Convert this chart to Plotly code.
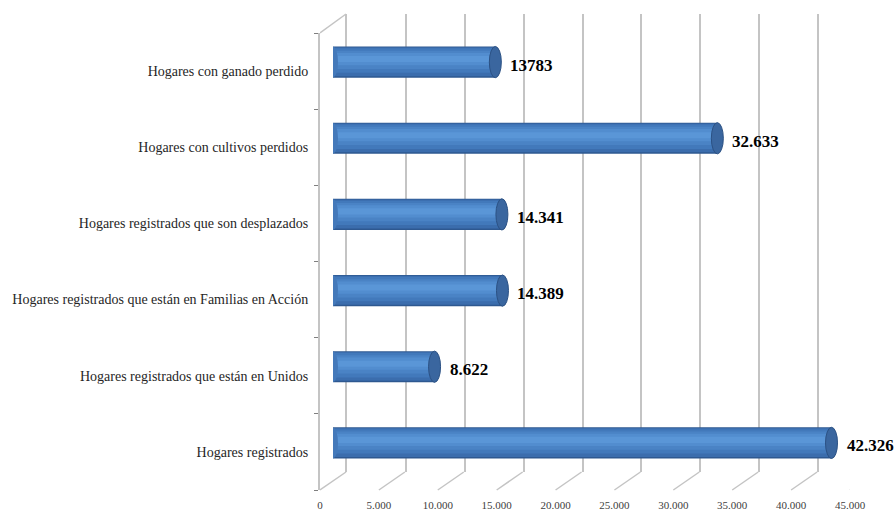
import plotly.graph_objects as go

# ---- data ----
categories = [
    "Hogares registrados",
    "Hogares registrados que están en Unidos",
    "Hogares registrados que están en Familias en Acción",
    "Hogares registrados que son desplazados",
    "Hogares con cultivos perdidos",
    "Hogares con ganado perdido",
]
values = [42326, 8622, 14389, 14341, 32633, 13783]
value_labels = ["42.326", "8.622", "14.389", "14.341", "32.633", "13783"]
tick_values = [0, 5000, 10000, 15000, 20000, 25000, 30000, 35000, 40000, 45000]
x_max = 45000

W, H = 895, 511
SERIF = "Liberation Serif, Times New Roman, serif"
GRID = "#c4c4c4"
CLEAR = "rgba(0,0,0,0)"

def px_x(p):
    return p / W

def px_y(p):
    return 1 - p / H

fig = go.Figure()

# back wall (gridlines) subplot: x / y
fig.add_trace(go.Scatter(x=[0], y=[0], mode="markers", marker=dict(opacity=0),
                         hoverinfo="skip", showlegend=False, xaxis="x", yaxis="y"))

# bars at mid depth: x2 / y2  (layered for a cylinder-like shading)
layers = [
    (0.41, -0.205, "#2e5890"),
    (0.38, -0.185, "#3b6dad"),
    (0.32, -0.14, "#4279bb"),
    (0.24, -0.09, "#4a83c5"),
    (0.16, -0.04, "#528dcf"),
    (0.08, 0.0, "#5a96d7"),
]
for w, off, col in layers:
    fig.add_trace(go.Bar(
        x=values, y=categories, orientation="h", width=w,
        offset=off, marker=dict(color=col, line=dict(width=0)),
        xaxis="x2", yaxis="y2", showlegend=False, hoverinfo="skip",
    ))

# front axes: x3 / y3 (tick labels, left wall)
fig.add_trace(go.Scatter(x=[0], y=[categories[0]], mode="markers", marker=dict(opacity=0),
                         hoverinfo="skip", showlegend=False, xaxis="x3", yaxis="y3"))

shapes = []
# floor diagonals from the front ticks to the back wall
for v in tick_values:
    shapes.append(dict(type="line", xref="x3", yref="y3 domain",
                       xsizemode="pixel", xanchor=v, x0=0, x1=26,
                       ysizemode="pixel", yanchor=0, y0=0, y1=18,
                       line=dict(color=GRID, width=1.5), layer="below"))
# left wall top edge
shapes.append(dict(type="line", xref="x3", yref="y3 domain",
                   xsizemode="pixel", xanchor=0, x0=0, x1=26,
                   ysizemode="pixel", yanchor=1, y0=0, y1=19,
                   line=dict(color=GRID, width=1.5), layer="below"))
# cylinder caps
for i, v in enumerate(values):
    shapes.append(dict(type="circle", xref="x2", yref="y2",
                       xsizemode="pixel", xanchor=0, x0=-5, x1=5,
                       y0=i - 0.2, y1=i + 0.2,
                       fillcolor="#4479ba", line=dict(width=0),
                       layer="above"))
    shapes.append(dict(type="circle", xref="x2", yref="y2",
                       xsizemode="pixel", xanchor=v, x0=-6, x1=6,
                       y0=i - 0.205, y1=i + 0.205,
                       fillcolor="#3a669f", line=dict(color="#2b5184", width=1),
                       layer="above"))

annotations = []
for c, v, t in zip(categories, values, value_labels):
    annotations.append(dict(x=v, y=c, xref="x3", yref="y3", text="<b>" + t + "</b>",
                            showarrow=False, xanchor="left", xshift=26, yshift=6,
                            font=dict(family=SERIF, size=17, color="#000000")))

fig.update_layout(
    width=W, height=H, autosize=False,
    margin=dict(l=0, r=0, t=0, b=0, autoexpand=False),
    paper_bgcolor="white", plot_bgcolor=CLEAR,
    separators=",.",
    barmode="overlay",
    showlegend=False,
    shapes=shapes,
    annotations=annotations,
    xaxis=dict(domain=[px_x(347), px_x(877)], range=[0, x_max], anchor="y", automargin=False,
               tickvals=tick_values, showticklabels=False, ticks="",
               showgrid=True, gridcolor=GRID, gridwidth=2,
               zeroline=True, zerolinecolor=GRID, zerolinewidth=2, showline=False),
    yaxis=dict(domain=[px_y(472), px_y(14)], range=[0, 1], anchor="x", automargin=False,
               showgrid=False, zeroline=False, showticklabels=False, ticks="",
               showline=True, linecolor=GRID, linewidth=2),
    xaxis2=dict(domain=[px_x(333), px_x(863)], range=[0, x_max], anchor="y2", automargin=False,
                showgrid=False, zeroline=False, showticklabels=False, ticks="",
                showline=False),
    yaxis2=dict(domain=[px_y(481), px_y(24)], range=[-0.5, 5.5], anchor="x2", automargin=False,
                type="category", categoryorder="array", categoryarray=categories,
                showgrid=False, zeroline=False, showticklabels=False, ticks="",
                showline=False),
    xaxis3=dict(domain=[px_x(320), px_x(850)], range=[0, x_max], anchor="y3", automargin=False,
                tickvals=tick_values, tickformat=",d",
                ticks="outside", ticklen=5, tickcolor=CLEAR,
                showgrid=False, zeroline=False, showline=False,
                tickfont=dict(family=SERIF, size=11, color="#404040")),
    yaxis3=dict(domain=[px_y(490), px_y(33)], range=[-0.5, 5.5], anchor="x3", automargin=False,
                type="category", categoryorder="array", categoryarray=categories,
                tickson="boundaries", ticks="outside", ticklen=4, tickcolor="#7f7f7f",
                tickwidth=1, ticklabelstandoff=7,
                showgrid=False, zeroline=False,
                showline=True, linecolor=GRID, linewidth=2,
                tickfont=dict(family=SERIF, size=14, color="#262626")),
)

fig.write_html(
    "out.html",
    config={"displayModeBar": False, "responsive": False},
    post_script="document.body.style.margin='0';document.body.style.overflow='hidden';",
)
